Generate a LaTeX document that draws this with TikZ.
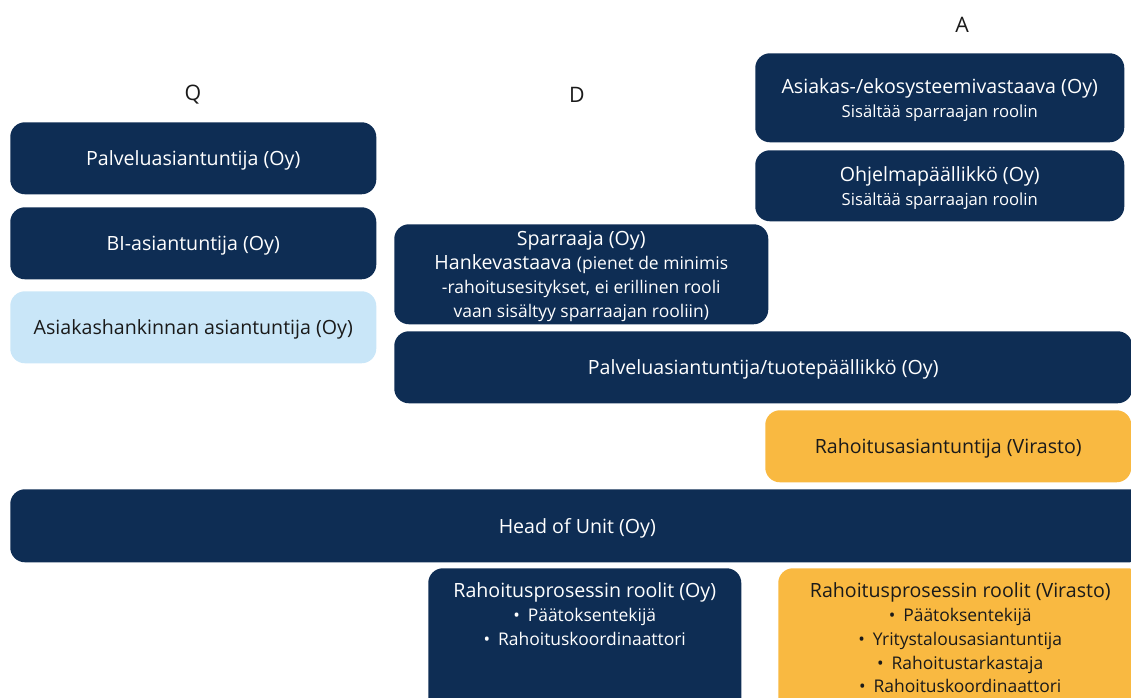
\documentclass[tikz,border=0pt]{standalone}
\usepackage{fontspec}
\setmainfont{Open Sans}
\usetikzlibrary{positioning}
\definecolor{mnavy}{HTML}{0E2D54}
\definecolor{mlight}{HTML}{C9E6F8}
\definecolor{morange}{HTML}{F9B941}
\definecolor{mink}{HTML}{1A1A1A}
\tikzstyle{role} = [rectangle, rounded corners=11pt, anchor=north west, inner sep=0pt, text depth=0pt, text centered, align=center, text=white, fill=mnavy, font=\fontsize{14.7}{18}\selectfont]
\tikzstyle{rolelight} = [role, fill=mlight, text=mink]
\tikzstyle{roleagency} = [role, fill=morange, text=mink]
\tikzstyle{phase} = [font=\fontsize{16}{18}\selectfont, text=mink]
\tikzstyle{listtext} = [anchor=north, align=center, inner sep=0pt, font=\fontsize{14.7}{17.8}\selectfont]
\newcommand{\sub}[1]{{\fontsize{12.5}{18}\selectfont #1}}
\newcommand{\note}[1]{{\fontsize{13.1}{18}\selectfont #1}}
\newcommand{\bulitem}[1]{\note{•\hspace{0.45em}#1}}

\begin{document}
\begin{tikzpicture}[x=0.75pt, y=-0.75pt]
  \useasboundingbox (0,0) rectangle (1131,697);
  \clip (0,0) rectangle (1131,697);
  % phase headings
  \node (q) [phase] at (193,95) {Q};
  \node (d) [phase] at (577,95) {D};
  \node (a) [phase] at (962,25) {A};
  % Q column
  \node (palv) [role, minimum width=274.5pt, minimum height=54pt] at (10,122) {Palveluasiantuntija (Oy)};
  \node (bi) [role, minimum width=274.5pt, minimum height=54pt] at (10,207) {BI-asiantuntija (Oy)};
  \node (hank) [rolelight, minimum width=274.5pt, minimum height=54pt] at (10,291) {Asiakashankinnan asiantuntija (Oy)};
  % A column
  \node (eko) [role, minimum width=276.75pt, minimum height=66.75pt] at (755,53) {Asiakas-/ekosysteemivastaava (Oy)\\ \sub{Sisältää sparraajan roolin}};
  \node (ohj) [role, minimum width=276.75pt, minimum height=53.25pt] at (755,150) {Ohjelmapäällikkö (Oy)\\ \sub{Sisältää sparraajan roolin}};
  % D column
  \node (spar) [role, minimum width=280.5pt, minimum height=75pt] at (394,224) {Sparraaja (Oy)\\ Hankevastaava \note{(pienet de minimis}\\ \note{-rahoitusesitykset, ei erillinen rooli}\\ \note{vaan sisältyy sparraajan rooliin)}};
  \node (tuote) [role, minimum width=553.5pt, minimum height=54pt] at (394,331) {Palveluasiantuntija/tuotepäällikkö (Oy)};
  \node (rahasi) [roleagency, minimum width=274.5pt, minimum height=54pt] at (765,410) {Rahoitusasiantuntija (Virasto)};
  % across all phases
  \node (head) [role, minimum width=850.5pt, minimum height=54.75pt] at (10,489) {Head of Unit (Oy)};
  % financing process roles
  \node (oyroles) [role, minimum width=234.75pt, minimum height=114pt] at (428,568) {};
  \node (oylist) [listtext, text=white, below=11pt of oyroles.north] {Rahoitusprosessin roolit (Oy)\\ \bulitem{Päätoksentekijä}\\ \bulitem{Rahoituskoordinaattori}};
  \node (viroles) [roleagency, minimum width=273pt, minimum height=114pt] at (778,568) {};
  \node (vilist) [listtext, text=mink, below=11pt of viroles.north] {Rahoitusprosessin roolit (Virasto)\\ \bulitem{Päätoksentekijä}\\ \bulitem{Yritystalousasiantuntija}\\ \bulitem{Rahoitustarkastaja}\\ \bulitem{Rahoituskoordinaattori}};
\end{tikzpicture}
\end{document}
